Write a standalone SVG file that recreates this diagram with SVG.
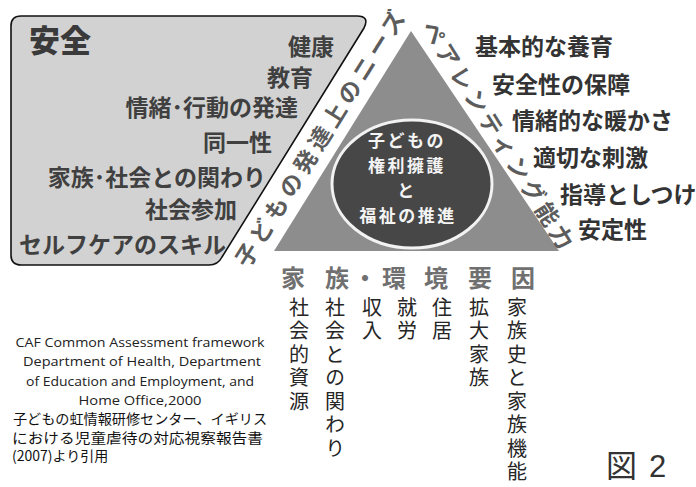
<svg xmlns="http://www.w3.org/2000/svg" width="696" height="487" viewBox="0 0 696 487">
<style>
text{font-family:"Noto Sans CJK JP","Noto Sans",sans-serif;}
.box{font-size:23px;font-weight:bold;fill:#404040;text-anchor:end;}
.rl{font-size:23px;font-weight:bold;fill:#333;}
.band{font-size:23px;font-weight:bold;fill:#5c5c5c;text-anchor:middle;dominant-baseline:central;}
.hd{font-size:24px;font-weight:bold;fill:#707070;text-anchor:middle;}
.col{font-size:20px;fill:#262626;writing-mode:vertical-rl;letter-spacing:3.5px;}
.ct{font-size:17px;font-weight:bold;fill:#f4f4f4;text-anchor:middle;letter-spacing:2.5px;}
.en{font-family:"Open Sans","Liberation Sans",sans-serif;font-size:13.5px;fill:#222;text-anchor:middle;}
.jp{font-size:14px;fill:#111;}
</style>
<rect width="696" height="487" fill="#ffffff"/>

<g id="safety-box">
  <path d="M21,16 H357 Q370,16 364,28 L222,257 Q218,265 209,265 H21 Q11,265 11,255 V26 Q11,16 21,16 Z" fill="#d2d2d2" stroke="#111" stroke-width="1.6"/>
  <text x="29" y="52" style="font-size:31px;font-weight:900;fill:#3a3a3a">安全</text>
  <text class="box" x="334" y="55">健康</text>
  <text class="box" x="313" y="86">教育</text>
  <text class="box" x="298" y="116">情緒･行動の発達</text>
  <text class="box" x="272" y="151">同一性</text>
  <text class="box" x="266" y="186">家族･社会との関わり</text>
  <text class="box" x="237" y="218">社会参加</text>
  <text class="box" x="226" y="253">セルフケアのスキル</text>
</g>

<g id="triangle">
  <polygon points="411,31 274,251 559,251" fill="#8d8d8d"/>
</g>

<g id="center-circle">
  <ellipse cx="412" cy="184" rx="80" ry="64" fill="#474747" stroke="#f2f2f2" stroke-width="3"/>
  <text class="ct" x="407" y="147">子どもの</text>
  <text class="ct" x="407" y="172">権利擁護</text>
  <text class="ct" x="407" y="197">と</text>
  <text class="ct" x="408" y="222">福祉の推進</text>
</g>

<g id="needs-label">
  <text class="band" transform="translate(318.5,138) rotate(-57.9)" x="0" y="0" textLength="297" lengthAdjust="spacing">子どもの発達上のニーズ</text>
</g>

<g id="parenting-label">
  <text class="band" transform="translate(499,134) rotate(58)" x="0" y="0" textLength="264" lengthAdjust="spacing">ペアレンティング能力</text>
</g>

<g id="parenting-list">
  <text class="rl" x="475" y="55">基本的な養育</text>
  <text class="rl" x="492" y="93">安全性の保障</text>
  <text class="rl" x="512" y="129">情緒的な暖かさ</text>
  <text class="rl" x="533" y="166">適切な刺激</text>
  <text class="rl" x="560" y="203">指導としつけ</text>
  <text class="rl" x="578" y="238">安定性</text>
</g>

<g id="family-environment">
  <text class="hd" x="293" y="287">家</text>
  <text class="hd" x="337" y="287">族</text>
  <text class="hd" x="365" y="287">・</text>
  <text class="hd" x="394" y="287">環</text>
  <text class="hd" x="436" y="287">境</text>
  <text class="hd" x="480" y="287">要</text>
  <text class="hd" x="523" y="287">因</text>
  <text class="col" x="299" y="297">社会的資源</text>
  <text class="col" x="335" y="297">社会との関わり</text>
  <text class="col" x="372" y="297">収入</text>
  <text class="col" x="407" y="297">就労</text>
  <text class="col" x="442" y="297">住居</text>
  <text class="col" x="479" y="297">拡大家族</text>
  <text class="col" x="517" y="297">家族史と家族機能</text>
</g>

<g id="citation">
  <text class="en" x="140" y="347" textLength="249" lengthAdjust="spacingAndGlyphs">CAF Common Assessment framework</text>
  <text class="en" x="142" y="366" textLength="238" lengthAdjust="spacingAndGlyphs">Department of Health, Department</text>
  <text class="en" x="140" y="386" textLength="228" lengthAdjust="spacingAndGlyphs">of Education and Employment, and</text>
  <text class="en" x="140" y="405" textLength="123" lengthAdjust="spacingAndGlyphs">Home Office,2000</text>
  <text class="jp" x="13" y="424" textLength="254" lengthAdjust="spacingAndGlyphs">子どもの虹情報研修センター、イギリス</text>
  <text class="jp" x="12" y="443" textLength="251" lengthAdjust="spacingAndGlyphs">における児童虐待の対応視察報告書</text>
  <text class="jp" x="12" y="461">(2007)より引用</text>
</g>

<g id="figure-label">
  <text x="606" y="477" style="font-size:31px;fill:#333">図</text>
  <text x="649" y="477" style="font-size:31px;fill:#333;font-family:'Liberation Sans',sans-serif">2</text>
</g>
</svg>
